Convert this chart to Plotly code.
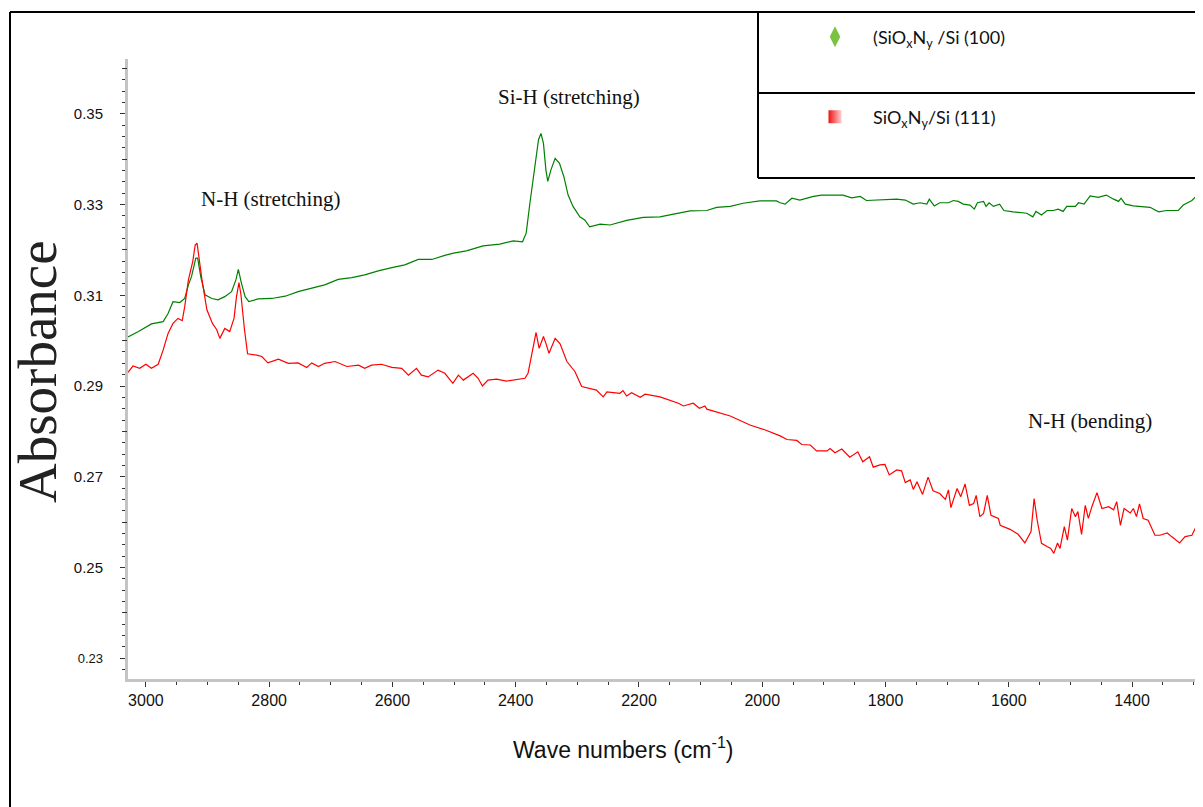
import plotly.graph_objects as go

# ---------------- data (wavenumber cm-1, absorbance) ----------------
wn_100 = [3029, 3012, 2991, 2972, 2964, 2956, 2945, 2937, 2931, 2926, 2919, 2916, 2911, 2904,
          2893, 2883, 2872, 2861, 2854, 2850, 2845, 2839, 2833, 2818, 2796, 2774, 2753, 2731,
          2710, 2688, 2666, 2645, 2623, 2601, 2580, 2558, 2536, 2515, 2501, 2480, 2453, 2426,
          2404, 2389, 2383, 2377, 2370, 2363, 2359, 2355, 2351, 2348, 2343, 2336, 2329, 2322,
          2315, 2307, 2296, 2288, 2280, 2263, 2247, 2220, 2193, 2166, 2144, 2117, 2090, 2074,
          2052, 2031, 2004, 1977, 1971, 1963, 1952, 1939, 1917, 1904, 1887, 1869, 1855, 1841,
          1831, 1814, 1798, 1782, 1768, 1755, 1744, 1733, 1729, 1721, 1712, 1698, 1690, 1682,
          1674, 1663, 1656, 1651, 1641, 1637, 1632, 1625, 1615, 1608, 1593, 1571, 1561, 1556,
          1547, 1538, 1528, 1520, 1512, 1506, 1492, 1487, 1478, 1468, 1455, 1442, 1430, 1422,
          1418, 1411, 1398, 1387, 1371, 1357, 1344, 1325, 1317, 1303, 1294]
abs_100 = [0.3008, 0.3020, 0.3037, 0.3042, 0.3060, 0.3086, 0.3084, 0.3093, 0.3123, 0.3141,
           0.3182, 0.3182, 0.3141, 0.3101, 0.3093, 0.3090, 0.3097, 0.3108, 0.3134, 0.3157,
           0.3127, 0.3097, 0.3086, 0.3092, 0.3093, 0.3098, 0.3108, 0.3115, 0.3123, 0.3135,
           0.3139, 0.3145, 0.3154, 0.3161, 0.3167, 0.3179, 0.3179, 0.3188, 0.3193, 0.3198,
           0.3209, 0.3213, 0.3220, 0.3218, 0.3237, 0.3303, 0.3376, 0.3443, 0.3457, 0.3435,
           0.3376, 0.3351, 0.3376, 0.3402, 0.3391, 0.3362, 0.3321, 0.3296, 0.3273, 0.3266,
           0.3251, 0.3257, 0.3255, 0.3265, 0.3272, 0.3273, 0.3279, 0.3286, 0.3287, 0.3294,
           0.3296, 0.3303, 0.3308, 0.3308, 0.3304, 0.3301, 0.3314, 0.3310, 0.3318, 0.3321,
           0.3321, 0.3321, 0.3315, 0.3318, 0.3309, 0.3310, 0.3312, 0.3312, 0.3310, 0.3301,
           0.3304, 0.3301, 0.3312, 0.3297, 0.3304, 0.3304, 0.3309, 0.3307, 0.3301, 0.3299,
           0.3290, 0.3304, 0.3307, 0.3296, 0.3304, 0.3296, 0.3301, 0.3287, 0.3284, 0.3281,
           0.3273, 0.3285, 0.3277, 0.3287, 0.3287, 0.3290, 0.3285, 0.3296, 0.3296, 0.3304,
           0.3301, 0.3319, 0.3316, 0.3321, 0.3312, 0.3307, 0.3314, 0.3301, 0.3297, 0.3296,
           0.3294, 0.3284, 0.3287, 0.3287, 0.3299, 0.3309, 0.3321]

wn_111 = [3029, 3021, 3010, 3000, 2991, 2980, 2972, 2964, 2956, 2948, 2941, 2937, 2931, 2924,
          2920, 2917, 2914, 2909, 2901, 2892, 2885, 2880, 2872, 2864, 2857, 2853, 2849, 2846,
          2840, 2835, 2820, 2812, 2802, 2785, 2769, 2753, 2739, 2731, 2720, 2710, 2693, 2674,
          2655, 2645, 2634, 2618, 2601, 2585, 2574, 2561, 2553, 2542, 2526, 2515, 2502, 2493,
          2485, 2469, 2461, 2454, 2445, 2431, 2415, 2385, 2380, 2374, 2367, 2362, 2355, 2351,
          2346, 2336, 2328, 2317, 2304, 2293, 2280, 2269, 2258, 2252, 2231, 2226, 2220, 2212,
          2198, 2190, 2166, 2150, 2136, 2128, 2112, 2102, 2093, 2090, 2052, 2020, 1995, 1971,
          1960, 1944, 1936, 1922, 1912, 1895, 1890, 1882, 1871, 1858, 1845, 1837, 1826, 1820,
          1809, 1801, 1794, 1782, 1774, 1768, 1760, 1755, 1749, 1740, 1731, 1723, 1712, 1703,
          1698, 1694, 1684, 1678, 1671, 1664, 1657, 1653, 1647, 1641, 1635, 1629, 1617, 1614,
          1598, 1585, 1574, 1564, 1559, 1554, 1547, 1538, 1532, 1527, 1521, 1517, 1510, 1505,
          1498, 1492, 1488, 1482, 1476, 1471, 1465, 1457, 1449, 1438, 1430, 1425, 1419, 1413,
          1403, 1398, 1393, 1388, 1382, 1374, 1363, 1355, 1343, 1336, 1323, 1314, 1303, 1294]
abs_111 = [0.2930, 0.2944, 0.2939, 0.2948, 0.2939, 0.2948, 0.2979, 0.3016, 0.3038, 0.3049,
           0.3044, 0.3075, 0.3134, 0.3174, 0.3211, 0.3215, 0.3185, 0.3134, 0.3068, 0.3038,
           0.3024, 0.3005, 0.3027, 0.3020, 0.3049, 0.3097, 0.3128, 0.3104, 0.3024, 0.2971,
           0.2968, 0.2965, 0.2951, 0.2959, 0.2950, 0.2951, 0.2941, 0.2951, 0.2943, 0.2950,
           0.2954, 0.2943, 0.2946, 0.2939, 0.2946, 0.2948, 0.2941, 0.2939, 0.2924, 0.2939,
           0.2924, 0.2920, 0.2935, 0.2928, 0.2906, 0.2924, 0.2913, 0.2928, 0.2917, 0.2900,
           0.2913, 0.2915, 0.2911, 0.2917, 0.2928, 0.2972, 0.3018, 0.2983, 0.3009, 0.2994,
           0.2972, 0.3005, 0.2993, 0.2954, 0.2932, 0.2899, 0.2895, 0.2891, 0.2876, 0.2887,
           0.2884, 0.2890, 0.2878, 0.2885, 0.2875, 0.2882, 0.2876, 0.2869, 0.2862, 0.2856,
           0.2862, 0.2851, 0.2856, 0.2849, 0.2834, 0.2814, 0.2803, 0.2790, 0.2782, 0.2780,
           0.2771, 0.2770, 0.2757, 0.2757, 0.2762, 0.2753, 0.2761, 0.2743, 0.2755, 0.2733,
           0.2744, 0.2721, 0.2726, 0.2727, 0.2704, 0.2715, 0.2713, 0.2687, 0.2693, 0.2672,
           0.2689, 0.2661, 0.2699, 0.2669, 0.2663, 0.2650, 0.2671, 0.2632, 0.2674, 0.2656,
           0.2684, 0.2637, 0.2641, 0.2659, 0.2612, 0.2619, 0.2659, 0.2615, 0.2608, 0.2593,
           0.2584, 0.2573, 0.2554, 0.2579, 0.2652, 0.2604, 0.2553, 0.2546, 0.2542, 0.2531,
           0.2554, 0.2542, 0.2590, 0.2560, 0.2630, 0.2612, 0.2623, 0.2573, 0.2637, 0.2608,
           0.2635, 0.2665, 0.2630, 0.2634, 0.2627, 0.2645, 0.2593, 0.2630, 0.2620, 0.2630,
           0.2612, 0.2640, 0.2608, 0.2604, 0.2571, 0.2571, 0.2576, 0.2568, 0.2554, 0.2568,
           0.2571, 0.2596]

x_tick_vals = [3000, 2800, 2600, 2400, 2200, 2000, 1800, 1600, 1400]
y_label_vals = [0.23, 0.25, 0.27, 0.29, 0.31, 0.33, 0.35]
y_label_text = ["<span style='font-size:13px'>0.23</span>", "0.25", "0.27", "0.29",
                "0.31", "0.33", "0.35"]
y_mid_vals = [0.24, 0.26, 0.28, 0.30, 0.32, 0.34, 0.36]

series_names = ["(SiO<sub>x</sub>N<sub>y</sub> /Si (100)", "SiO<sub>x</sub>N<sub>y</sub>/Si (111)"]
peak_labels = ["N-H (stretching)", "Si-H (stretching)", "N-H (bending)"]

# ---------------- figure ----------------
OFF = 8  # page body margin
W, H = 1203 - OFF, 807 - OFF
L, R, T, B = 128 - OFF, 0, 59 - OFF, 128
pw, ph = W - L - R, H - T - B


def px(xp):
    return (xp - OFF - L) / pw


def py(yp):
    return (H - B - (yp - OFF)) / ph


fig = go.Figure()
fig.add_trace(go.Scatter(x=wn_100, y=abs_100, mode="lines",
                         line=dict(color="#008000", width=1.2), showlegend=False))
fig.add_trace(go.Scatter(x=wn_111, y=abs_111, mode="lines",
                         line=dict(color="#ff0000", width=1.2), showlegend=False))
# helper trace so the tick-only overlay axis is drawn
fig.add_trace(go.Scatter(x=[None], y=[None], yaxis="y2", showlegend=False, hoverinfo="skip"))
# legend-only marker entries
PAD = "\u2003\u00a0"
fig.add_trace(go.Scatter(x=[None], y=[None], mode="markers", name=PAD + series_names[0],
                         marker=dict(symbol="diamond-tall", size=15, color="#7cc242",
                                     line=dict(width=0)),
                         legend="legend"))
fig.add_trace(go.Scatter(x=[None], y=[None], mode="markers", name=PAD + series_names[1],
                         marker=dict(symbol="square", size=13, color="#ee1111",
                                     gradient=dict(type="horizontal", color="#ffd0d0"),
                                     line=dict(width=0)),
                         legend="legend2"))

tick_col = "#333333"
leg_font = dict(family="Lato, Open Sans", size=18, color="#111111")
Y_RANGE = [0.2254, 0.3621]

fig.update_layout(
    width=W, height=H,
    margin=dict(l=L, r=R, t=T, b=B, pad=0),
    plot_bgcolor="white", paper_bgcolor="white",
    showlegend=True,
    legend=dict(x=px(815), y=py(37), xanchor="left", yanchor="middle",
                bgcolor="rgba(0,0,0,0)", borderwidth=0, font=leg_font),
    legend2=dict(x=px(815), y=py(117), xanchor="left", yanchor="middle",
                 bgcolor="rgba(0,0,0,0)", borderwidth=0, font=leg_font),
    xaxis=dict(range=[3029, 1285], showgrid=False, zeroline=False,
               showline=True, linecolor="#c4c4c4", linewidth=3,
               tickmode="array", tickvals=x_tick_vals,
               ticks="outside", ticklen=5, tickwidth=1, tickcolor=tick_col,
               tickfont=dict(family="Liberation Sans, Arial", size=16, color="#111111"),
               minor=dict(ticks="outside", ticklen=3, tickwidth=1, tickcolor=tick_col,
                          tick0=0, dtick=50, showgrid=False)),
    yaxis=dict(range=Y_RANGE, showgrid=False, zeroline=False,
               showline=True, linecolor="#c4c4c4", linewidth=3,
               tickmode="array", tickvals=y_label_vals, ticktext=y_label_text,
               ticks="outside", ticklen=5, tickwidth=1, tickcolor=tick_col,
               tickfont=dict(family="Liberation Sans, Arial", size=15, color="#111111"),
               ticklabelstandoff=14,
               minor=dict(ticks="outside", ticklen=3, tickwidth=1, tickcolor=tick_col,
                          tick0=0, dtick=0.0025, showgrid=False)),
    yaxis2=dict(range=Y_RANGE, overlaying="y", side="left", showgrid=False, zeroline=False,
                showline=False, tickmode="array", tickvals=y_mid_vals,
                ticks="outside", ticklen=5, tickwidth=1, tickcolor=tick_col,
                showticklabels=False),
)

# frame and legend box
frame = dict(color="black", width=2)
fig.add_shape(type="line", xref="paper", yref="paper", x0=px(10), x1=px(10),
              y0=py(12), y1=py(H + 20), line=frame)
fig.add_shape(type="line", xref="paper", yref="paper", x0=px(10), x1=px(W + 20),
              y0=py(12), y1=py(12), line=frame)
fig.add_shape(type="line", xref="paper", yref="paper", x0=px(758), x1=px(758),
              y0=py(12), y1=py(178), line=frame)
fig.add_shape(type="line", xref="paper", yref="paper", x0=px(758), x1=px(W + 20),
              y0=py(93), y1=py(93), line=frame)
fig.add_shape(type="line", xref="paper", yref="paper", x0=px(758), x1=px(W + 20),
              y0=py(178), y1=py(178), line=frame)

serif = dict(family="Liberation Serif, Times New Roman", size=21, color="#111111")
for (cx, cy), txt in zip([(270, 199), (569, 97), (1090, 421)], peak_labels):
    fig.add_annotation(xref="paper", yref="paper", x=px(cx), y=py(cy), text=txt,
                       xanchor="center", yanchor="middle", showarrow=False, font=serif)

fig.add_annotation(xref="paper", yref="paper", x=px(37), y=py(372), text="Absorbance",
                   textangle=-90, xanchor="center", yanchor="middle", showarrow=False,
                   font=dict(family="Liberation Serif, Times New Roman", size=55, color="#222222"))
fig.add_annotation(xref="paper", yref="paper", x=px(623), y=py(748),
                   text="Wave numbers (cm<sup>-1</sup>)", xanchor="center", yanchor="middle",
                   showarrow=False,
                   font=dict(family="Liberation Sans, Arial", size=23, color="#111111"))

fig.write_html("out.html")
